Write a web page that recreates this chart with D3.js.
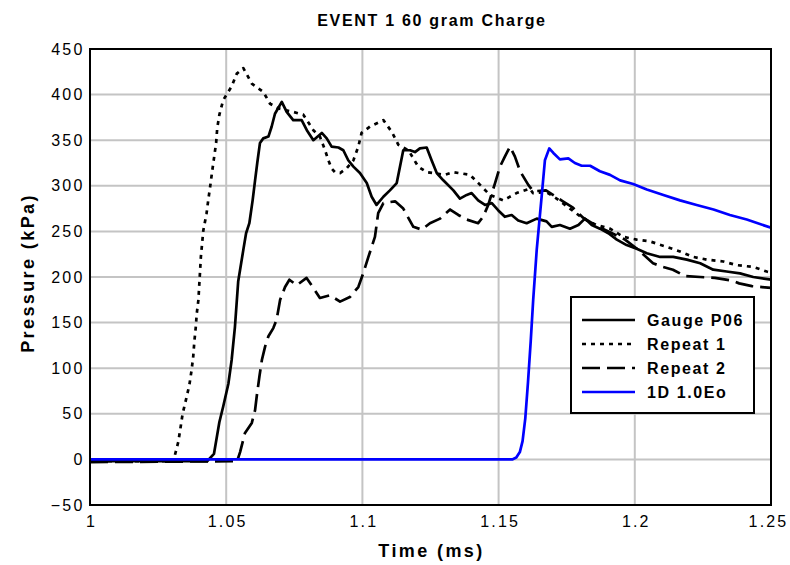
<!DOCTYPE html>
<html>
<head>
<meta charset="utf-8">
<script src="https://cdn.jsdelivr.net/npm/d3@7.9.0/dist/d3.min.js"></script>
<style>
  body { margin: 0; background: #fff; }
  svg { display: block; font-family: 'Liberation Sans', Arial, sans-serif; }
</style>
</head>
<body>
<svg id="chart" width="790" height="565"></svg>
<script>
// ---- data (time in ms, pressure in kPa) ----
const gaugeP06 = [
  [1.000, -2], [1.043, -2], [1.0455, 6], [1.0475, 41], [1.0489, 58], [1.0508, 83],
  [1.0520, 109], [1.0532, 145], [1.0544, 195], [1.0563, 230], [1.0573, 248],
  [1.0585, 259], [1.0597, 284], [1.0606, 306], [1.0614, 325], [1.0624, 347],
  [1.0636, 352], [1.0655, 354], [1.0667, 365], [1.0679, 379], [1.0704, 392],
  [1.0722, 381], [1.0746, 372], [1.0777, 372], [1.0796, 361], [1.0820, 350],
  [1.0851, 358], [1.0869, 352], [1.0887, 343], [1.0912, 342], [1.0930, 339],
  [1.0948, 328], [1.0967, 321], [1.0991, 314], [1.1016, 303], [1.1034, 288],
  [1.1052, 279], [1.1077, 288], [1.1101, 295], [1.1126, 303], [1.1150, 339],
  [1.1175, 339], [1.1193, 337], [1.1211, 341], [1.1236, 342], [1.1254, 328],
  [1.1273, 314], [1.1297, 306], [1.1334, 295], [1.1358, 286], [1.1383, 290],
  [1.1401, 292], [1.1425, 284], [1.1450, 279], [1.1475, 281], [1.1499, 273],
  [1.1523, 266], [1.1548, 268], [1.1572, 262], [1.1603, 259], [1.1640, 264],
  [1.1676, 261], [1.1695, 255], [1.1725, 257], [1.1762, 253], [1.1793, 257],
  [1.1817, 264], [1.1842, 257], [1.1872, 253], [1.1903, 248], [1.1934, 241],
  [1.1970, 235], [1.2007, 231], [1.2044, 226], [1.2093, 222], [1.2141, 222],
  [1.2191, 219], [1.2240, 215], [1.2288, 208], [1.2337, 206], [1.2386, 204],
  [1.2435, 200], [1.2500, 197]
];

const repeat1 = [
  [1.000, -2], [1.0306, -2], [1.0324, 19], [1.0333, 36], [1.0340, 50], [1.0352, 65],
  [1.0365, 82], [1.0373, 98], [1.0379, 113], [1.0383, 129], [1.0388, 144],
  [1.0392, 160], [1.0398, 175], [1.0401, 191], [1.0404, 206], [1.0407, 222],
  [1.0416, 251], [1.0428, 270], [1.0434, 284], [1.0441, 299], [1.0449, 317],
  [1.0456, 332], [1.0463, 347], [1.0467, 363], [1.0475, 378], [1.0489, 394],
  [1.0520, 409], [1.0539, 423], [1.0563, 429], [1.0594, 412], [1.0636, 403],
  [1.0661, 390], [1.0691, 385], [1.0746, 381], [1.0783, 378], [1.0820, 361],
  [1.0844, 354], [1.0863, 339], [1.0875, 328], [1.0887, 319], [1.0899, 315],
  [1.0918, 314], [1.0942, 319], [1.0967, 328], [1.0985, 343], [1.0997, 358],
  [1.1028, 365], [1.1077, 372], [1.1108, 359], [1.1132, 345], [1.1169, 339],
  [1.1205, 321], [1.1236, 315], [1.1303, 312], [1.1333, 315], [1.1395, 312],
  [1.1432, 301], [1.1468, 290], [1.1517, 284], [1.1566, 292], [1.1615, 297],
  [1.1626, 292], [1.1676, 293], [1.1713, 286], [1.1762, 275], [1.1811, 264],
  [1.1860, 257], [1.1909, 253], [1.1958, 244], [1.2007, 241], [1.2056, 239],
  [1.2117, 233], [1.2166, 228], [1.2215, 222], [1.2265, 219], [1.2325, 217],
  [1.2374, 213], [1.2435, 211], [1.2484, 206], [1.2500, 205]
];

const repeat2 = [
  [1.000, -3], [1.054, -2], [1.0551, 8], [1.0569, 29], [1.0594, 40], [1.0606, 54],
  [1.0612, 69], [1.0622, 91], [1.0631, 109], [1.0643, 124], [1.0655, 135],
  [1.0673, 144], [1.0685, 153], [1.0698, 175], [1.0716, 189], [1.0732, 197],
  [1.0759, 191], [1.0795, 199], [1.0820, 188], [1.0844, 177], [1.0881, 180],
  [1.0918, 173], [1.0954, 178], [1.0985, 189], [1.1003, 204], [1.1022, 222],
  [1.1046, 244], [1.1058, 270], [1.1077, 281], [1.1120, 283], [1.1150, 275],
  [1.1187, 255], [1.1218, 252], [1.1248, 259], [1.1285, 264], [1.1322, 274],
  [1.1352, 268], [1.1383, 263], [1.1425, 259], [1.1443, 266], [1.1462, 279],
  [1.1487, 303], [1.1505, 321], [1.1523, 332], [1.1542, 343], [1.1560, 332],
  [1.1579, 316], [1.1609, 301], [1.1627, 294], [1.1674, 295], [1.1736, 283],
  [1.1773, 276], [1.1810, 265], [1.1854, 257], [1.1909, 249], [1.1964, 241],
  [1.2008, 231], [1.2067, 215], [1.2104, 211], [1.2140, 208], [1.2184, 201],
  [1.2240, 200], [1.2294, 199], [1.2357, 196], [1.2383, 193], [1.2430, 190],
  [1.2500, 188]
];

const model1D = [
  [1.000, 0], [1.155, 0], [1.1565, 2], [1.1578, 8], [1.1588, 20], [1.1598, 45],
  [1.1608, 85], [1.1618, 130], [1.1627, 175], [1.1640, 230], [1.1658, 288],
  [1.1670, 328], [1.1686, 341], [1.1701, 336], [1.1725, 329], [1.1756, 330],
  [1.1780, 325], [1.1805, 322], [1.1836, 322], [1.1872, 316], [1.1909, 312],
  [1.1946, 306], [1.1994, 302], [1.2044, 296], [1.2105, 290], [1.2166, 284],
  [1.2227, 279], [1.2289, 274], [1.2349, 268], [1.2411, 263], [1.2500, 254]
];

const seriesNames = ['Gauge P06', 'Repeat 1', 'Repeat 2', '1D 1.0Eo'];
const xTicks = [1, 1.05, 1.1, 1.15, 1.2, 1.25];
const yTicks = [-50, 0, 50, 100, 150, 200, 250, 300, 350, 400, 450];

const series = [
  { name: seriesNames[0], data: gaugeP06, color: '#000', dash: null },
  { name: seriesNames[1], data: repeat1, color: '#000', dash: '4,5' },
  { name: seriesNames[2], data: repeat2, color: '#000', dash: '18,7' },
  { name: seriesNames[3], data: model1D, color: '#0000ff', dash: null },
];

// ---- layout ----
const width = 790, height = 565;
const margin = { top: 49, right: 19, bottom: 60, left: 90 };
const innerW = width - margin.left - margin.right;
const innerH = height - margin.top - margin.bottom;
const font = "'Liberation Sans', Arial, sans-serif";

const svg = d3.select('#chart');

const x = d3.scaleLinear().domain([1, 1.25]).range([0, innerW]);
const y = d3.scaleLinear().domain([-50, 450]).range([innerH, 0]);

const g = svg.append('g').attr('transform', `translate(${margin.left},${margin.top})`);

svg.append('defs').append('clipPath').attr('id', 'plot-clip')
  .append('rect').attr('width', innerW).attr('height', innerH);

// grid
g.append('g')
  .selectAll('line')
  .data(xTicks.slice(1, -1))
  .join('line')
  .attr('x1', (d) => x(d)).attr('x2', (d) => x(d))
  .attr('y1', 0).attr('y2', innerH)
  .attr('stroke', '#c4c4c4').attr('stroke-width', 2);

g.append('g')
  .selectAll('line')
  .data(yTicks.slice(1, -1))
  .join('line')
  .attr('x1', 0).attr('x2', innerW)
  .attr('y1', (d) => y(d)).attr('y2', (d) => y(d))
  .attr('stroke', '#c4c4c4').attr('stroke-width', 2);

// axes (labels only, frame drawn separately)
const xAxis = g.append('g')
  .attr('transform', `translate(0,${innerH})`)
  .call(d3.axisBottom(x).tickValues(xTicks).tickSize(0).tickPadding(11).tickFormat(d3.format('')));
const yAxis = g.append('g')
  .call(d3.axisLeft(y).tickValues(yTicks).tickSize(0).tickPadding(5.5));
[xAxis, yAxis].forEach((a) => {
  a.select('.domain').remove();
  a.selectAll('text').attr('font-size', 16).attr('fill', '#000')
    .attr('font-family', font).attr('letter-spacing', 2.2);
});
// keep the last label inside the page
xAxis.selectAll('text').attr('dx', (d, i) => (i === xTicks.length - 1 ? -3 : 1));

// lines
const line = d3.line().x((d) => x(d[0])).y((d) => y(d[1]));

g.append('g').attr('clip-path', 'url(#plot-clip)')
  .selectAll('path')
  .data(series)
  .join('path')
  .attr('d', (d) => line(d.data))
  .attr('fill', 'none')
  .attr('stroke', (d) => d.color)
  .attr('stroke-width', 2.7)
  .attr('stroke-linejoin', 'round')
  .attr('stroke-dasharray', (d) => d.dash);

// frame
g.append('rect')
  .attr('width', innerW).attr('height', innerH)
  .attr('fill', 'none').attr('stroke', '#000').attr('stroke-width', 2);

// titles
svg.append('text')
  .attr('x', 432).attr('y', 26)
  .attr('text-anchor', 'middle')
  .attr('font-size', 16).attr('font-weight', 'bold').attr('letter-spacing', 1.7)
  .text('EVENT 1 60 gram Charge');

svg.append('text')
  .attr('x', margin.left + innerW / 2 + 1).attr('y', 557)
  .attr('text-anchor', 'middle')
  .attr('font-size', 18).attr('font-weight', 'bold').attr('letter-spacing', 2.4)
  .text('Time (ms)');

svg.append('text')
  .attr('transform', `translate(34,${margin.top + innerH / 2 - 4}) rotate(-90)`)
  .attr('text-anchor', 'middle')
  .attr('font-size', 18).attr('font-weight', 'bold').attr('letter-spacing', 2.4)
  .text('Pressure (kPa)');

// legend
const legend = svg.append('g').attr('transform', 'translate(571,297)');
legend.append('rect')
  .attr('width', 183).attr('height', 116)
  .attr('fill', '#fff').attr('stroke', '#000').attr('stroke-width', 2);

const rows = legend.selectAll('g.row')
  .data(series)
  .join('g')
  .attr('class', 'row')
  .attr('transform', (d, i) => `translate(0,${23 + i * 24})`);

rows.append('line')
  .attr('x1', 11).attr('x2', 64)
  .attr('stroke', (d) => d.color)
  .attr('stroke-width', 2.7)
  .attr('stroke-dasharray', (d) => d.dash);

rows.append('text')
  .attr('x', 76).attr('y', 6)
  .attr('font-size', 16).attr('font-weight', 'bold').attr('letter-spacing', 1.6)
  .text((d) => d.name);
</script>
</body>
</html>
